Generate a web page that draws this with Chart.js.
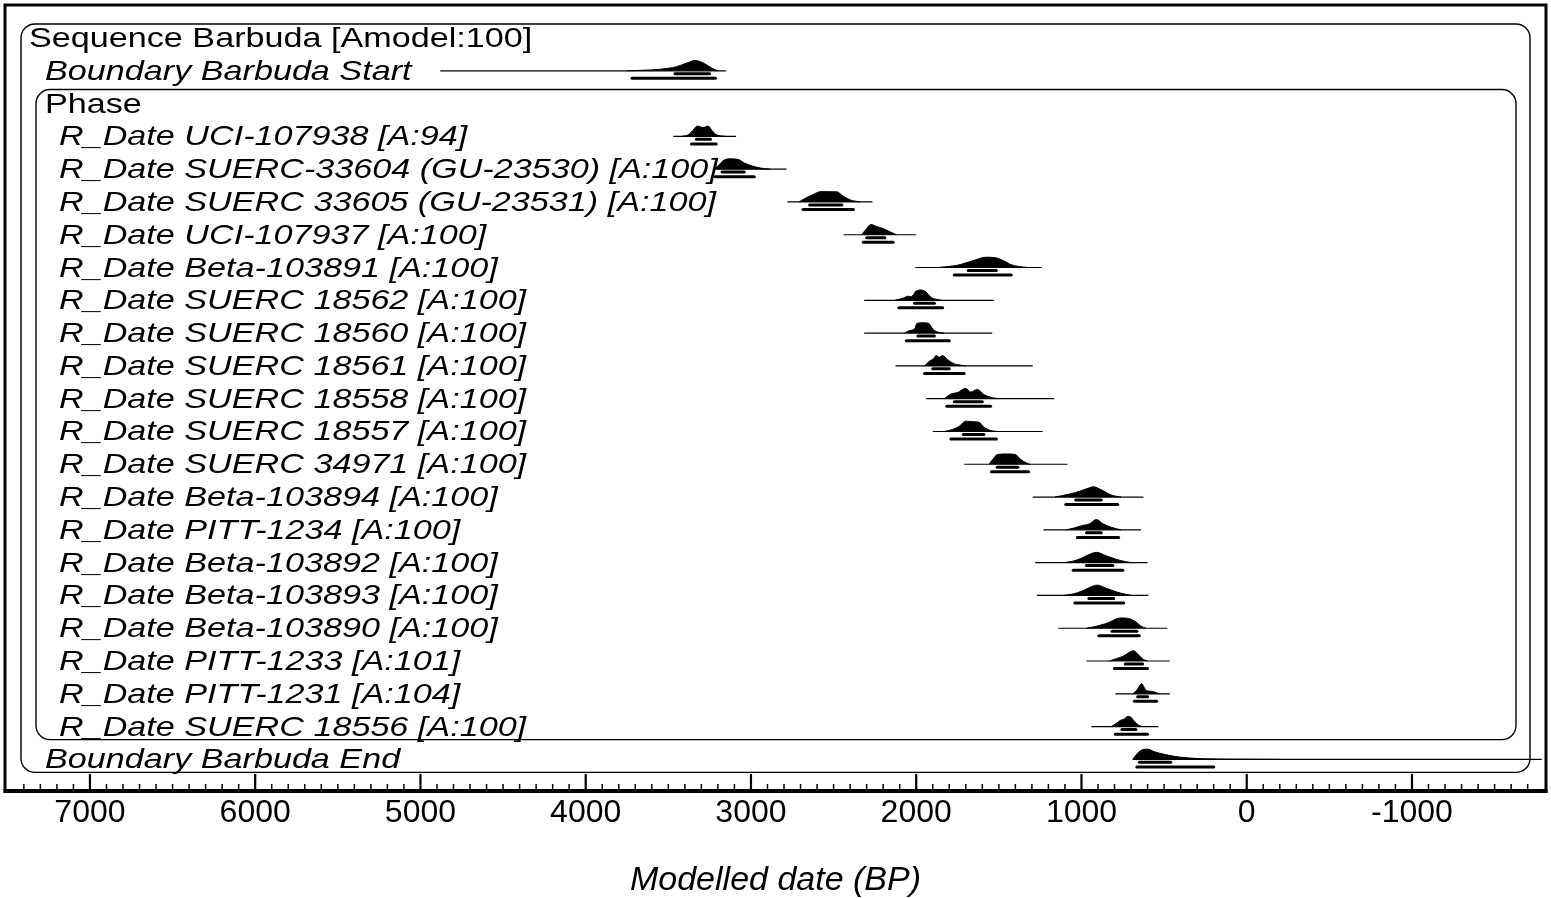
<!DOCTYPE html>
<html>
<head>
<meta charset="utf-8">
<script src="https://cdn.jsdelivr.net/npm/chart.js@4.4.1/dist/chart.umd.min.js"></script>
<style>
  html, body { margin: 0; padding: 0; background: #fff; }
</style>
</head>
<body>
<canvas id="oxcal" width="1551" height="898"></canvas>
<script>
// --- OxCal multiplot: Sequence Barbuda ---
// one entry per row, top to bottom (row index = y value)
const rowLabels = [
    'Sequence Barbuda [Amodel:100]',
    'Boundary Barbuda Start',
    'Phase',
    'R_Date UCI-107938 [A:94]',
    'R_Date SUERC-33604 (GU-23530) [A:100]',
    'R_Date SUERC 33605 (GU-23531) [A:100]',
    'R_Date UCI-107937 [A:100]',
    'R_Date Beta-103891 [A:100]',
    'R_Date SUERC 18562 [A:100]',
    'R_Date SUERC 18560 [A:100]',
    'R_Date SUERC 18561 [A:100]',
    'R_Date SUERC 18558 [A:100]',
    'R_Date SUERC 18557 [A:100]',
    'R_Date SUERC 34971 [A:100]',
    'R_Date Beta-103894 [A:100]',
    'R_Date PITT-1234 [A:100]',
    'R_Date Beta-103892 [A:100]',
    'R_Date Beta-103893 [A:100]',
    'R_Date Beta-103890 [A:100]',
    'R_Date PITT-1233 [A:101]',
    'R_Date PITT-1231 [A:104]',
    'R_Date SUERC 18556 [A:100]',
    'Boundary Barbuda End'
];
const rowKind = ['seq', 'bound', 'phase', 'date', 'date', 'date', 'date', 'date', 'date', 'date', 'date', 'date',
    'date', 'date', 'date', 'date', 'date', 'date', 'date', 'date', 'date', 'date', 'bound'];

// thin line (full extent of distribution), years BP
const lineFrom = [null, 4880, null, 3470, 3230, 2780, 2440, 2005, 2315, 2315, 2125, 1940, 1900, 1710, 1295, 1230, 1280, 1270, 1140, 970, 795, 940, 690];
const lineTo = [null, 3150, null, 3090, 2785, 2265, 2000, 1240, 1530, 1540, 1295, 1165, 1235, 1085, 625, 640, 600, 595, 480, 465, 465, 535, -1785];

// 68.2% and 95.4% ranges
const range68 = [null, [3460, 3250], null, [3330, 3245], [3175, 3040], [2645, 2450], [2300, 2190], [1685, 1515],
    [2010, 1890], [1990, 1890], [1900, 1800], [1770, 1600], [1715, 1590], [1510, 1385], [1035, 880], [970, 880],
    [970, 810], [955, 805], [815, 665], [735, 630], [660, 600], [755, 670], [650, 460]];
const range95 = [null, [3720, 3215], null, [3360, 3210], [3215, 2980], [2685, 2380], [2320, 2140], [1770, 1425],
    [2105, 1840], [2060, 1800], [1950, 1710], [1815, 1550], [1790, 1515], [1545, 1320], [1095, 780], [1025, 775],
    [1050, 750], [1040, 745], [895, 650], [800, 600], [680, 545], [795, 600], [665, 200]];

// posterior shapes: [year BP, relative height]
const posteriors = [
    null,
    [[3750, 0], [3650, 0.05], [3550, 0.15], [3450, 0.4], [3380, 0.8], [3340, 1], [3300, 0.85], [3260, 0.5], [3230, 0.2], [3200, 0]],
    null,
    [[3420, 0], [3380, 0.15], [3350, 0.6], [3325, 1], [3290, 0.85], [3260, 1], [3230, 0.45], [3200, 0.1], [3150, 0]],
    [[3230, 0], [3200, 0.3], [3170, 0.8], [3130, 1], [3080, 0.95], [3040, 0.6], [2990, 0.3], [2940, 0.1], [2880, 0]],
    [[2710, 0], [2660, 0.45], [2620, 0.75], [2580, 1], [2480, 0.98], [2445, 0.6], [2400, 0.2], [2340, 0]],
    [[2330, 0], [2300, 0.6], [2275, 1], [2240, 0.8], [2200, 0.6], [2160, 0.3], [2120, 0]],
    [[1870, 0], [1780, 0.15], [1730, 0.3], [1640, 0.75], [1580, 1], [1520, 0.95], [1470, 0.65], [1430, 0.3], [1380, 0.1], [1320, 0]],
    [[2130, 0], [2080, 0.2], [2050, 0.4], [2030, 0.35], [2000, 0.9], [1970, 1], [1940, 0.8], [1915, 0.35], [1880, 0.1], [1840, 0]],
    [[2070, 0], [2040, 0.25], [2010, 0.4], [1995, 0.95], [1960, 1], [1925, 0.95], [1900, 0.4], [1870, 0.1], [1830, 0]],
    [[1950, 0], [1920, 0.45], [1895, 0.7], [1880, 1], [1860, 0.85], [1840, 1], [1810, 0.6], [1770, 0.2], [1720, 0.05], [1700, 0]],
    [[1830, 0], [1790, 0.45], [1750, 0.6], [1700, 1], [1670, 0.65], [1630, 0.9], [1590, 0.4], [1540, 0.1], [1500, 0]],
    [[1830, 0], [1780, 0.2], [1740, 0.5], [1700, 1], [1660, 0.95], [1620, 0.9], [1590, 0.4], [1550, 0.1], [1510, 0]],
    [[1560, 0], [1530, 0.6], [1510, 0.95], [1450, 1], [1400, 0.95], [1370, 0.5], [1330, 0.1], [1310, 0]],
    [[1160, 0], [1070, 0.3], [1005, 0.6], [960, 0.85], [930, 1], [880, 0.7], [820, 0.2], [760, 0]],
    [[1090, 0], [1040, 0.2], [1000, 0.4], [950, 0.6], [910, 1], [870, 0.6], [820, 0.25], [760, 0]],
    [[1110, 0], [1050, 0.15], [1005, 0.4], [945, 0.85], [910, 1], [855, 0.7], [795, 0.35], [735, 0.1], [700, 0]],
    [[1110, 0], [1050, 0.15], [1000, 0.4], [940, 0.85], [905, 1], [850, 0.7], [790, 0.35], [730, 0.1], [695, 0]],
    [[970, 0], [920, 0.15], [885, 0.3], [835, 0.55], [790, 0.9], [760, 1], [715, 0.95], [670, 0.6], [640, 0.2], [610, 0]],
    [[830, 0], [795, 0.2], [750, 0.45], [715, 0.8], [685, 1], [655, 0.6], [625, 0.15], [600, 0]],
    [[690, 0], [665, 0.35], [645, 0.85], [636, 1], [620, 0.6], [605, 0.3], [580, 0.25], [555, 0.15], [530, 0]],
    [[820, 0], [790, 0.3], [765, 0.6], [740, 0.75], [720, 1], [700, 0.9], [680, 0.5], [655, 0.15], [630, 0]],
    [[690, 0], [660, 0.6], [630, 0.95], [600, 1], [560, 0.75], [500, 0.5], [440, 0.3], [360, 0.15], [250, 0.06], [100, 0.02], [-200, 0]]
];

const tickValues = [7000, 6000, 5000, 4000, 3000, 2000, 1000, 0, -1000];

const FONT = "'Liberation Sans', Arial, Helvetica, sans-serif";
const PEAK = 0.314;   // max posterior height in row units
const BAR68 = 0.09;   // offsets below baseline
const BAR95 = 0.23;

const datasets = [];
rowLabels.forEach((lab, i) => {
    if (!posteriors[i]) return;
    datasets.push({
        data: posteriors[i].map(p => ({ x: p[0], y: i - p[1] * PEAK })),
        borderColor: '#000', backgroundColor: '#000', borderWidth: 1,
        fill: { value: i }, cubicInterpolationMode: 'monotone'
    });
    datasets.push({
        data: [{ x: lineFrom[i], y: i }, { x: lineTo[i], y: i }],
        borderColor: '#000', borderWidth: 1.2
    });
    datasets.push({
        data: [{ x: range68[i][0], y: i + BAR68 }, { x: range68[i][1], y: i + BAR68 }],
        borderColor: '#000', borderWidth: 3, borderCapStyle: 'round'
    });
    datasets.push({
        data: [{ x: range95[i][0], y: i + BAR95 }, { x: range95[i][1], y: i + BAR95 }],
        borderColor: '#000', borderWidth: 3, borderCapStyle: 'round'
    });
});

function roundBox(ctx, x0, y0, x1, y1, r) {
    ctx.beginPath();
    ctx.moveTo(x0 + r, y0);
    ctx.lineTo(x1 - r, y0);
    ctx.arcTo(x1, y0, x1, y0 + r, r);
    ctx.lineTo(x1, y1 - r);
    ctx.arcTo(x1, y1, x1 - r, y1, r);
    ctx.lineTo(x0 + r, y1);
    ctx.arcTo(x0, y1, x0, y1 - r, r);
    ctx.lineTo(x0, y0 + r);
    ctx.arcTo(x0, y0, x0 + r, y0, r);
    ctx.closePath();
    ctx.stroke();
}

const oxcalDecor = {
    id: 'oxcalDecor',
    beforeDatasetsDraw(chart) {
        const { ctx, chartArea: a, scales: { y } } = chart;
        ctx.save();
        ctx.strokeStyle = '#000';
        ctx.lineWidth = 1.4;
        // sequence and phase boxes
        roundBox(ctx, a.left + 16, y.getPixelForValue(0) - 14, a.right - 16, y.getPixelForValue(22) + 13, 14);
        roundBox(ctx, a.left + 31, y.getPixelForValue(2) - 14, a.right - 30, y.getPixelForValue(21) + 13, 14);
        ctx.restore();
    },
    afterDraw(chart) {
        const { ctx, chartArea: a, scales: { x, y } } = chart;
        ctx.save();
        // row labels (OxCal text is a bit wide)
        ctx.fillStyle = '#000';
        ctx.textBaseline = 'alphabetic';
        rowLabels.forEach((lab, i) => {
            const k = rowKind[i];
            const left = k === 'seq' ? 29 : (k === 'date' ? 59 : 45);
            const italic = (k === 'bound' || k === 'date') ? 'italic ' : '';
            ctx.save();
            ctx.translate(left, y.getPixelForValue(i) + 9);
            ctx.scale(1.22, 1);
            ctx.font = italic + '28px ' + FONT;
            ctx.fillText(lab, 0, 0);
            ctx.restore();
        });
        // frame
        ctx.strokeStyle = '#000';
        ctx.lineWidth = 3;
        ctx.strokeRect(a.left, a.top, a.right - a.left, a.bottom - a.top);
        ctx.lineWidth = 4;
        ctx.beginPath();
        ctx.moveTo(a.left - 1.5, a.bottom);
        ctx.lineTo(a.right + 1.5, a.bottom);
        ctx.stroke();
        // inward ticks
        for (let yr = 7500; yr >= -1800; yr -= 100) {
            const px = x.getPixelForValue(yr);
            if (px < a.left + 4 || px > a.right - 4) continue;
            const major = yr % 1000 === 0;
            ctx.lineWidth = major ? 2.2 : 1.5;
            ctx.beginPath();
            ctx.moveTo(px, a.bottom);
            ctx.lineTo(px, a.bottom - (major ? 17 : 7));
            ctx.stroke();
        }
        ctx.restore();
    }
};

new Chart(document.getElementById('oxcal'), {
    type: 'scatter',
    data: { datasets },
    options: {
        responsive: false,
        animation: false,
        showLine: true,
        elements: { point: { radius: 0, hoverRadius: 0 } },
        layout: { padding: { left: 5, right: 5, top: 5, bottom: 0 } },
        plugins: {
            legend: { display: false },
            tooltip: { enabled: false }
        },
        scales: {
            x: {
                type: 'linear',
                reverse: true,
                min: -1811,
                max: 7514,
                grid: { display: false },
                border: { display: false },
                afterBuildTicks: (s) => { s.ticks = tickValues.map(v => ({ value: v })); },
                afterFit: (s) => { s.height = 107; },
                ticks: {
                    autoSkip: false,
                    maxRotation: 0,
                    padding: -5,
                    color: '#000',
                    font: { family: FONT, size: 32 },
                    callback: (v) => String(v)
                },
                title: {
                    display: true,
                    text: 'Modelled date (BP)',
                    color: '#000',
                    font: { family: FONT, size: 34, style: 'italic' },
                    padding: { top: -2, bottom: -3 }
                }
            },
            y: {
                type: 'linear',
                display: false,
                reverse: true,
                min: -1.006,
                max: 22.964
            }
        }
    },
    plugins: [oxcalDecor]
});
</script>
</body>
</html>
